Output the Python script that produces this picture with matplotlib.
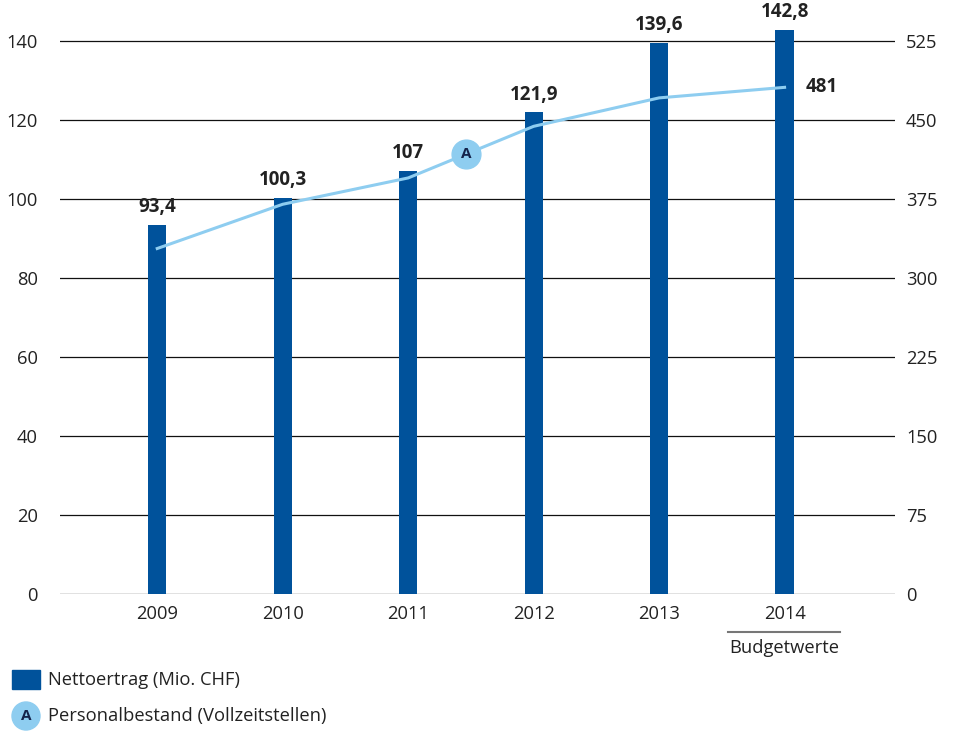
import matplotlib.pyplot as plt
from matplotlib.patches import Ellipse, Rectangle
import numpy as np

plt.rcParams['font.family'] = ['Open Sans', 'DejaVu Sans']

years = ['2009', '2010', '2011', '2012', '2013', '2014']
netto = [93.4, 100.3, 107, 121.9, 139.6, 142.8]
netto_labels = ['93,4', '100,3', '107', '121,9', '139,6', '142,8']
personal = [328, 370, 395, 444, 471, 481]
left_ticks = [0, 20, 40, 60, 80, 100, 120, 140]
right_ticks = [0, 75, 150, 225, 300, 375, 450, 525]

bar_col = '#00529b'
line_col = '#8ecdf0'
txt_col = '#222222'
fs = 13.2

fig = plt.figure(figsize=(9.6, 7.31), dpi=100)
ax = fig.add_axes([60/960, 1-594/731, 835/960, 592.5/731])
x = np.arange(len(years))

for v in left_ticks:
    ax.axhline(v, color='#111111', lw=0.9, zorder=1)
ax.bar(x, netto, width=0.145, color=bar_col, zorder=3)

ax.set_xlim(-0.775, 5.88)
ax.set_ylim(0, 150)
ax.set_yticks(left_ticks)
ax.set_xticks(x)
ax.set_xticklabels(years)
ax.tick_params(length=0, labelsize=fs, colors=txt_col, pad=8)
ax.tick_params(axis='y', pad=16)
for s in ax.spines.values():
    s.set_visible(False)

for i, (v, lab) in enumerate(zip(netto, netto_labels)):
    ax.text(x[i], v + 2.0, lab, ha='center', va='bottom', fontsize=13.5,
            fontweight='bold', color=txt_col, zorder=5,
            bbox=dict(facecolor='white', edgecolor='none', pad=3) if i == 4 else None)

ax2 = ax.twinx()
ax2.set_ylim(0, 150*525/140)
ax2.set_yticks(right_ticks)
ax2.tick_params(length=0, labelsize=fs, colors=txt_col, pad=8)
for s in ax2.spines.values():
    s.set_visible(False)
ax2.plot(x, personal, color=line_col, lw=2.2, zorder=4)
ax2.text(x[5] + 0.17, personal[5], '481', ha='left', va='center', fontsize=13.5,
         fontweight='bold', color=txt_col)
mx = 2.46
my = np.interp(mx, x, personal)
ax2.scatter([mx], [my], s=430, color=line_col, zorder=6)
ax2.text(mx, my, 'A', ha='center', va='center', fontsize=11, fontweight='bold',
         color='#14234b', zorder=7)

# Budget annotation under 2014
fig.add_artist(plt.Line2D([728/960, 840/960], [1-632/731]*2, color='#777777', lw=1.5))
fig.text(784/960, 1-648/731, 'Budgetwerte', ha='center', va='center', fontsize=fs, color=txt_col)

# legend
fig.add_artist(Rectangle((12/960, 1-689/731), 28/960, 19/731, color=bar_col))
fig.text(48/960, 1-680/731, 'Nettoertrag (Mio. CHF)', ha='left', va='center', fontsize=fs, color=txt_col)
fig.add_artist(Ellipse((26/960, 1-716/731), 28/960, 28/731, color=line_col))
fig.text(26/960, 1-716/731, 'A', ha='center', va='center', fontsize=11, fontweight='bold', color='#14234b')
fig.text(48/960, 1-716/731, 'Personalbestand (Vollzeitstellen)', ha='left', va='center', fontsize=fs, color=txt_col)

fig.savefig('out.png', dpi=100)
